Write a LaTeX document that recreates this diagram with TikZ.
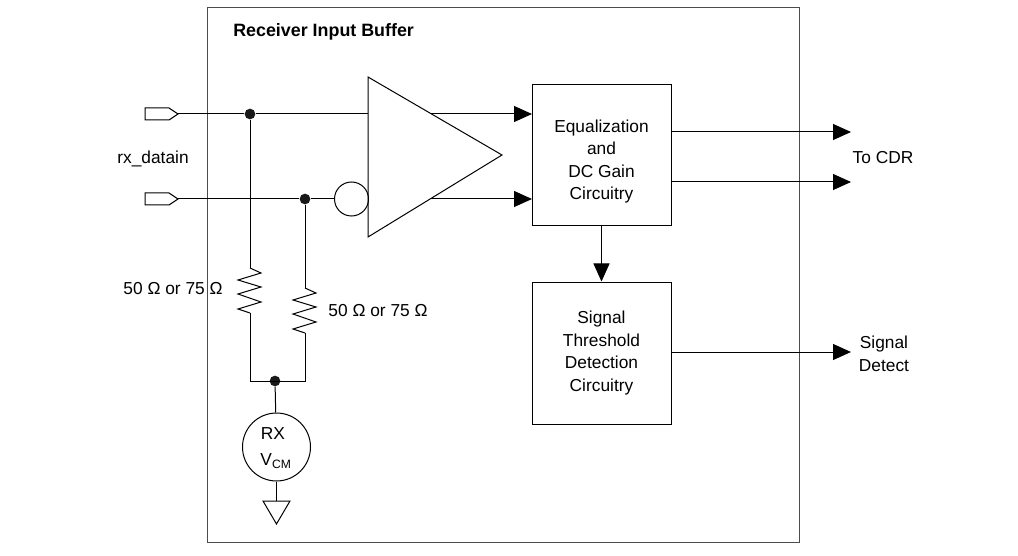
\documentclass[tikz,border=0pt]{standalone}
\usepackage{fontspec}
\setmainfont{Liberation Sans}
\usetikzlibrary{arrows.meta}
\tikzset{
  wire/.style={line width=0.75pt},
  flow/.style={wire,-{Triangle[length=13.5pt,width=12pt]}},
  block/.style={draw,wire,inner sep=0pt,align=center,font=\fontsize{13}{16.9}\selectfont},
  label/.style={inner sep=0pt,align=center,font=\fontsize{13}{16.9}\selectfont},
  dot/.style={circle,fill=black!90,inner sep=0pt,minimum size=8pt},
  ring/.style={draw,wire,circle,inner sep=0pt},
  port/.pic={\draw[wire] (-33,-6)--(-9,-6)--(0,0)--(-9,6)--(-33,6)--cycle;},
  resistor/.pic={\draw[wire] (0,0)--(11,5)--(-12,12)--(11,19)--(-12,26)--(11,34)--(-12,41)--(0,45);}
}
\begin{document}
\begin{tikzpicture}[x=0.75pt,y=-0.75pt]
\useasboundingbox (0,0) rectangle (1018,556);
\draw[wire,black!70] (207,8) rectangle (799,542);
\node[label,anchor=west,font=\fontsize{13.4}{16}\selectfont\bfseries] (title) at (233,32) {Receiver Input Buffer};
% inputs
\pic at (178,114) {port};
\pic at (178,199) {port};
\coordinate (inp) at (178,114);
\coordinate (inn) at (178,199);
\node[label] (datain) at (153,158.5) {rx\_datain};
\node[dot] (dotp) at (250,114) {};
\node[dot] (dotn) at (305,199) {};
\node[ring,minimum size=25.5pt] (bubble) at (351.5,199) {};
% amplifier
\coordinate (ampa) at (368,77);
\coordinate (ampb) at (368,237);
\coordinate (ampc) at (502,155);
\draw[wire] (ampa)--(ampc)--(ampb)--cycle;
\coordinate (ampp) at (368,114);
\coordinate (ampo) at (431,114);
\coordinate (ampq) at (431,199);
\draw[wire] (inp)--(dotp)--(ampp);
\draw[wire] (inn)--(dotn)--(bubble);
% blocks
\node[block,minimum width=104.25pt,minimum height=105.75pt] (eq) at (601.5,155.5) {};
\node[label] (eqtext) at (601.5,161.5) {Equalization\\and\\DC Gain\\Circuitry};
\node[block,minimum width=104.25pt,minimum height=106.5pt] (sig) at (601.5,353) {Signal\\Threshold\\Detection\\Circuitry};
\coordinate (eqp) at (532,114);
\coordinate (eqn) at (532,199);
\draw[flow] (ampo)--(eqp);
\draw[flow] (ampq)--(eqn);
\draw[flow] (eq)--(sig);
\coordinate (outa) at (671,132);
\coordinate (outb) at (671,182);
\coordinate (enda) at (851,132);
\coordinate (endb) at (851,182);
\draw[flow] (outa)--(enda);
\draw[flow] (outb)--(endb);
\node[label] (cdr) at (883,158) {To CDR};
\node[label] (det) at (884,354) {Signal\\Detect};
\coordinate (ends) at (851,352);
\coordinate (sigo) at (671,352);
\draw[flow] (sigo)--(ends);
% termination
\coordinate (rlt) at (250,268);
\coordinate (rlb) at (250,313);
\coordinate (rrt) at (305,288);
\coordinate (rrb) at (305,333);
\pic at (rlt) {resistor};
\pic at (rrt) {resistor};
\node[dot] (dotc) at (275,381) {};
\coordinate (cl) at (250,381);
\coordinate (cr) at (305,381);
\draw[wire] (dotp)--(rlt);
\draw[wire] (dotn)--(rrt);
\draw[wire] (rlb)--(cl)--(cr)--(rrb);
\node[label] (rl) at (173,289) {50 Ω or 75 Ω};
\node[label] (rr) at (378,311) {50 Ω or 75 Ω};
\node[ring,minimum size=51pt] (vcm) at (276.5,447) {};
\node[label] (rx) at (273,434) {RX};
\node[label] (vlab) at (276,461) {V\textsubscript{CM}};
\draw[wire] (dotc)--(vcm);
\coordinate (gnd) at (276.5,501);
\draw[wire] (vcm)--(gnd);
\draw[wire] (263,501)--(290,501)--(276.5,524)--cycle;
\end{tikzpicture}
\end{document}
